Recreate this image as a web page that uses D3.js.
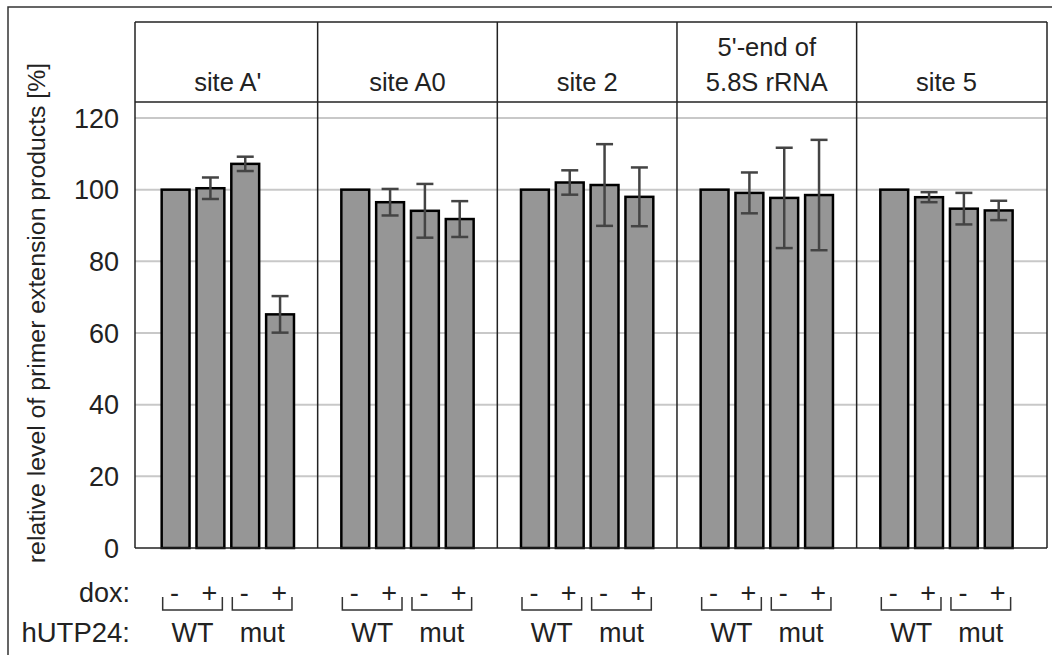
<!DOCTYPE html>
<html>
<head>
<meta charset="utf-8">
<script src="https://cdn.jsdelivr.net/npm/d3@7"></script>
<style>
  body { margin: 0; background: #fff; }
  text { font-family: "Liberation Sans", Arial, sans-serif; fill: #222; }
</style>
</head>
<body>
<svg id="chart" width="1052" height="655"></svg>
<script>
// relative primer extension products per cleavage site, hUTP24 WT / mut, -/+ dox

const sites = ["site A'", "site A0", "site 2", "5'-end", "site 5"];
const siteLabels = [["site A'"], ["site A0"], ["site 2"], ["5'-end of", "5.8S rRNA"], ["site 5"]];
const conditions = ["WT-", "WT+", "mut-", "mut+"];
const doxLabels = ["-", "+", "-", "+"];
const strains = ["WT", "mut"];
const yTicks = [0, 20, 40, 60, 80, 100, 120];

// means (%)
const wtMinus  = [100, 100, 100, 100, 100];
const wtPlus   = [100.4, 96.5, 102.0, 99.1, 97.9];
const mutMinus = [107.2, 94.1, 101.3, 97.7, 94.7];
const mutPlus  = [65.2, 91.8, 98.0, 98.5, 94.2];

// error (+/-)
const errWtMinus  = [0, 0, 0, 0, 0];
const errWtPlus   = [3.0, 3.7, 3.4, 5.7, 1.4];
const errMutMinus = [2.0, 7.5, 11.4, 14.0, 4.4];
const errMutPlus  = [5.1, 5.0, 8.2, 15.4, 2.7];

const series = [wtMinus, wtPlus, mutMinus, mutPlus];
const errors = [errWtMinus, errWtPlus, errMutMinus, errMutPlus];

let bars = [];
sites.forEach(function(s, i) {
  conditions.forEach(function(c, j) {
    bars.push({ site: s, cond: c, value: series[j][i], err: errors[j][i] });
  });
});

const svg = d3.select('#chart');

const plotLeft = 135, plotRight = 1047, plotTop = 22, headerBottom = 102;

const x0 = d3.scaleBand().domain(sites).range([138, 1036.3]);
const x1 = d3.scaleBand().domain(conditions).range([0, x0.bandwidth()])
  .paddingInner(0.2).paddingOuter(0.68);
const y = d3.scaleLinear().domain([0, 120]).range([548, 118]);

// outer frame
svg.append('rect')
  .attr('x', 8).attr('y', 7).attr('width', 1100).attr('height', 700)
  .attr('fill', 'none').attr('stroke', '#333').attr('stroke-width', 1.5);

// gridlines
svg.append('g').selectAll('line')
  .data(yTicks.filter(function(d) { return d > 0; }))
  .enter().append('line')
    .attr('x1', plotLeft).attr('x2', plotRight)
    .attr('y1', function(d) { return y(d); })
    .attr('y2', function(d) { return y(d); })
    .attr('stroke', '#c8c8c8').attr('stroke-width', 2);

// bars
svg.append('g').selectAll('rect')
  .data(bars)
  .enter().append('rect')
    .attr('x', function(d) { return x0(d.site) + x1(d.cond); })
    .attr('y', function(d) { return y(d.value); })
    .attr('width', x1.bandwidth())
    .attr('height', function(d) { return y(0) - y(d.value); })
    .attr('fill', '#969696')
    .attr('stroke', '#000')
    .attr('stroke-width', 2.5);

// error bars
const eb = svg.append('g').attr('stroke', '#444').attr('stroke-width', 2.5);
bars.filter(function(d) { return d.err > 0; }).forEach(function(d) {
  const cx = x0(d.site) + x1(d.cond) + x1.bandwidth() / 2;
  eb.append('line').attr('x1', cx).attr('x2', cx)
    .attr('y1', y(d.value + d.err)).attr('y2', y(d.value - d.err));
  [d.value + d.err, d.value - d.err].forEach(function(v) {
    eb.append('line').attr('x1', cx - 8.5).attr('x2', cx + 8.5)
      .attr('y1', y(v)).attr('y2', y(v));
  });
});

// panel frame + dividers
const frame = svg.append('g').attr('stroke', '#222').attr('stroke-width', 1.5).attr('fill', 'none');
frame.append('line').attr('x1', plotLeft).attr('x2', plotRight).attr('y1', plotTop).attr('y2', plotTop);
frame.append('line').attr('x1', plotLeft).attr('x2', plotRight).attr('y1', headerBottom).attr('y2', headerBottom);
frame.append('line').attr('x1', plotLeft).attr('x2', plotRight).attr('y1', y(0)).attr('y2', y(0));
frame.append('line').attr('x1', plotLeft).attr('x2', plotLeft).attr('y1', plotTop).attr('y2', y(0));
frame.append('line').attr('x1', plotRight).attr('x2', plotRight).attr('y1', plotTop).attr('y2', y(0));
sites.slice(1).forEach(function(s) {
  frame.append('line').attr('x1', x0(s)).attr('x2', x0(s)).attr('y1', plotTop).attr('y2', y(0));
});

// header labels
sites.forEach(function(s, i) {
  const lines = siteLabels[i];
  const t = svg.append('text')
    .attr('x', x0(s) + x0.bandwidth() / 2)
    .attr('text-anchor', 'middle')
    .attr('font-size', 25.5);
  lines.forEach(function(l, k) {
    t.append('tspan')
      .attr('x', x0(s) + x0.bandwidth() / 2)
      .attr('y', 91 - (lines.length - 1 - k) * 35.5)
      .text(l);
  });
});

// y tick labels
svg.append('g').selectAll('text')
  .data(yTicks)
  .enter().append('text')
    .attr('x', 119)
    .attr('y', function(d) { return y(d); })
    .attr('dy', '0.36em')
    .attr('text-anchor', 'end')
    .attr('font-size', 27)
    .text(function(d) { return d; });

// y axis title
svg.append('text')
  .attr('transform', 'translate(45,313) rotate(-90)')
  .attr('text-anchor', 'middle')
  .attr('font-size', 24.8)
  .text('relative level of primer extension products [%]');

// bottom labels
svg.append('text').attr('x', 130).attr('y', 602).attr('text-anchor', 'end')
  .attr('font-size', 27).text('dox:');
svg.append('text').attr('x', 130).attr('y', 642).attr('text-anchor', 'end')
  .attr('font-size', 27.5).text('hUTP24:');

const bw = x1.bandwidth();
sites.forEach(function(s) {
  conditions.forEach(function(c, j) {
    svg.append('text')
      .attr('x', x0(s) + x1(c) + bw / 2 - 1)
      .attr('y', 602)
      .attr('text-anchor', 'middle')
      .attr('font-size', 27)
      .text(doxLabels[j]);
  });
  strains.forEach(function(st, k) {
    const left = x0(s) + x1(conditions[k * 2]) + 1;
    const right = x0(s) + x1(conditions[k * 2 + 1]) + bw - 2;
    svg.append('path')
      .attr('d', 'M' + left + ',597V610H' + right + 'V597')
      .attr('fill', 'none').attr('stroke', '#333').attr('stroke-width', 1.5);
    svg.append('text')
      .attr('x', (left + right) / 2)
      .attr('y', 642)
      .attr('text-anchor', 'middle')
      .attr('font-size', 27)
      .text(st);
  });
});
</script>
</body>
</html>
